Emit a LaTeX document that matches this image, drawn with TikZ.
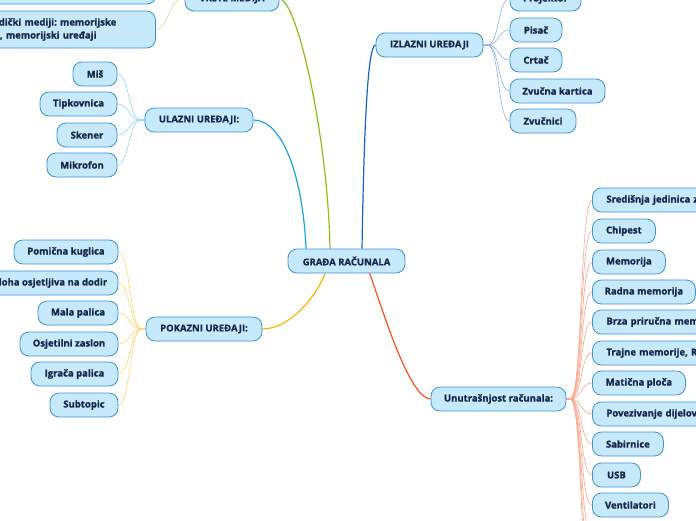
\documentclass[tikz,border=0pt]{standalone}
\usepackage{fontspec}
\setmainfont{Open Sans}[FakeBold=1.2]
\newfontfamily\topicfont{Open Sans}[FakeBold=0.5]
\usetikzlibrary{calc,backgrounds}
\definecolor{boxfill}{RGB}{198,233,251}
\definecolor{boxline}{RGB}{62,146,212}
\definecolor{boxtext}{RGB}{22,38,72}
\definecolor{cU}{RGB}{26,160,230}
\definecolor{cUl}{RGB}{144,213,245}
\definecolor{cV}{RGB}{141,187,26}
\definecolor{cVl}{RGB}{200,224,138}
\definecolor{cI}{RGB}{21,101,192}
\definecolor{cIl}{RGB}{143,176,234}
\definecolor{cP}{RGB}{255,179,0}
\definecolor{cPl}{RGB}{255,214,110}
\definecolor{cR}{RGB}{244,81,30}
\definecolor{cRl}{RGB}{255,165,135}
\frenchspacing
\begin{document}
\begin{tikzpicture}[x=1pt,y=-1pt,
  box/.style={draw=boxline, fill=boxfill, rounded corners=9pt, line width=0.8pt,
    minimum height=24pt, inner xsep=0pt, inner ysep=2pt, text=boxtext,
    font=\fontsize{9.5}{13}\selectfont\topicfont\bfseries},
  subbox/.style={box, font=\fontsize{9.5}{13}\selectfont\rmfamily\bfseries},
  lbox/.style={subbox, align=left, inner xsep=14pt},
  mainline/.style={line width=1.2pt},
  childline/.style={line width=0.6pt}]
\useasboundingbox (0,0) rectangle (696,520);
\clip (0,0) rectangle (696,520);

% central
\node[box, minimum width=117pt] (central) at (346.5,261) {GRAĐA RAČUNALA};

% VRSTE MEDIJA
\node[box, minimum width=94pt] (vrste) at (232,-1) {VRSTE MEDIJA};
\node[subbox, minimum width=206pt] (topmed) at (53,-8) {};
\node[lbox, text width=175pt, minimum height=37pt] (poluv) at (54,29.5) {Poluvodički mediji: memorijske\\kartice, memorijski uređaji};

% ULAZNI
\node[box, minimum width=108pt] (ulazni) at (199,120) {ULAZNI UREĐAJI:};
\node[subbox, minimum width=44pt] (mis) at (95,74) {Miš};
\node[subbox, minimum width=77pt] (tip) at (78.5,104) {Tipkovnica};
\node[subbox, minimum width=60pt] (sken) at (87,135) {Skener};
\node[subbox, minimum width=70pt] (mik) at (82,165) {Mikrofon};

% IZLAZNI
\node[box, minimum width=107pt] (izlazni) at (429.5,45) {IZLAZNI UREĐAJI};
\node[subbox, minimum width=71pt] (proj) at (545.5,-1) {Projektor};
\node[subbox, minimum width=52pt] (pisac) at (536,30) {Pisač};
\node[subbox, minimum width=52pt] (crtac) at (536,60) {Crtač};
\node[subbox, minimum width=95pt] (zvk) at (557.5,91) {Zvučna kartica};
\node[subbox, minimum width=66pt] (zvn) at (543,121) {Zvučnici};

% POKAZNI
\node[box, minimum width=116pt] (pokazni) at (204,329) {POKAZNI UREĐAJI:};
\node[subbox, minimum width=104pt] (kug) at (66,252) {Pomična kuglica};
\node[subbox, minimum width=136pt] (ploha) at (50,283) {Ploha osjetljiva na dodir};
\node[subbox, minimum width=80pt] (mala) at (78,313) {Mala palica};
\node[subbox, minimum width=98pt] (osj) at (69,344) {Osjetilni zaslon};
\node[subbox, minimum width=87pt] (igr) at (74.5,374) {Igrača palica};
\node[subbox, minimum width=68pt] (sub) at (84,405) {Subtopic};

% UNUTRASNJOST
\node[subbox, minimum width=135pt] (unut) at (498.5,399) {Unutrašnjost računala:};
\node[lbox, text width=200pt, anchor=west] (cpu) at (592,200) {Središnja jedinica za obradu};
\node[subbox, minimum width=63pt, anchor=west] (chip) at (592,231) {Chipest};
\node[subbox, minimum width=73pt, anchor=west] (mem) at (592,262) {Memorija};
\node[subbox, minimum width=103pt, anchor=west] (radna) at (592,292) {Radna memorija};
\node[lbox, text width=150pt, anchor=west] (brza) at (592,322) {Brza priručna memorija};
\node[lbox, text width=150pt, anchor=west] (trajne) at (592,353) {Trajne memorije, ROM};
\node[subbox, minimum width=93pt, anchor=west] (mat) at (592,383) {Matična ploča};
\node[lbox, text width=150pt, anchor=west] (pov) at (592,414) {Povezivanje dijelova};
\node[subbox, minimum width=71pt, anchor=west] (sab) at (592,444) {Sabirnice};
\node[subbox, minimum width=48pt, anchor=west] (usb) at (592,475) {USB};
\node[subbox, minimum width=76pt, anchor=west] (vent) at (592,505) {Ventilatori};
\coordinate (more1) at (592,536);
\coordinate (more2) at (592,566);
\coordinate (more3) at (592,597);

\begin{scope}[on background layer]
% main connectors
\draw[mainline, cU] (ulazni.east) .. controls +(30,0) and +(-3,-70) .. ($(central.north)+(-40.5,0)$);
\draw[mainline, cV] (vrste.east) .. controls +(18,0) and +(-2,-110) .. ($(central.north)+(-16.5,0)$);
\draw[mainline, cI] (izlazni.west) .. controls +(-8,0) and +(2,-120) .. ($(central.north)+(15.5,0)$);
\draw[mainline, cP] (pokazni.east) .. controls +(28,0) and +(-8,22) .. ($(central.south)+(-21.5,0)$);
\draw[mainline, cR] (unut.west) .. controls +(-30,0) and +(-7,-57) .. ($(central.south)+(18.5,0)$);

% child connectors
\foreach \c in {poluv,topmed}
  \draw[childline, cVl] (vrste.west) -- ++(-3,0) .. controls +(-12,0) and +(12,0) .. (\c.east);
\foreach \c in {mis,tip,sken,mik}
  \draw[childline, cUl] (ulazni.west) -- ++(-4,0) .. controls +(-12,0) and +(12,0) .. (\c.east);
\foreach \c in {proj,pisac,crtac,zvk,zvn}
  \draw[childline, cIl] (izlazni.east) -- ++(4,0) .. controls +(12,0) and +(-12,0) .. (\c.west);
\foreach \c in {kug,ploha,mala,osj,igr,sub}
  \draw[childline, cPl] (pokazni.west) -- ++(-4,0) .. controls +(-12,0) and +(12,0) .. (\c.east);
\foreach \c in {cpu,chip,mem,radna,brza,trajne,mat,pov,sab,usb,vent}
  \draw[childline, cRl] (unut.east) -- ++(4,0) .. controls +(12,0) and +(-12,0) .. (\c.west);
\foreach \c in {more1,more2,more3}
  \draw[childline, cRl] (unut.east) -- ++(4,0) .. controls +(12,0) and +(-12,0) .. (\c);
\end{scope}
\end{tikzpicture}
\end{document}
